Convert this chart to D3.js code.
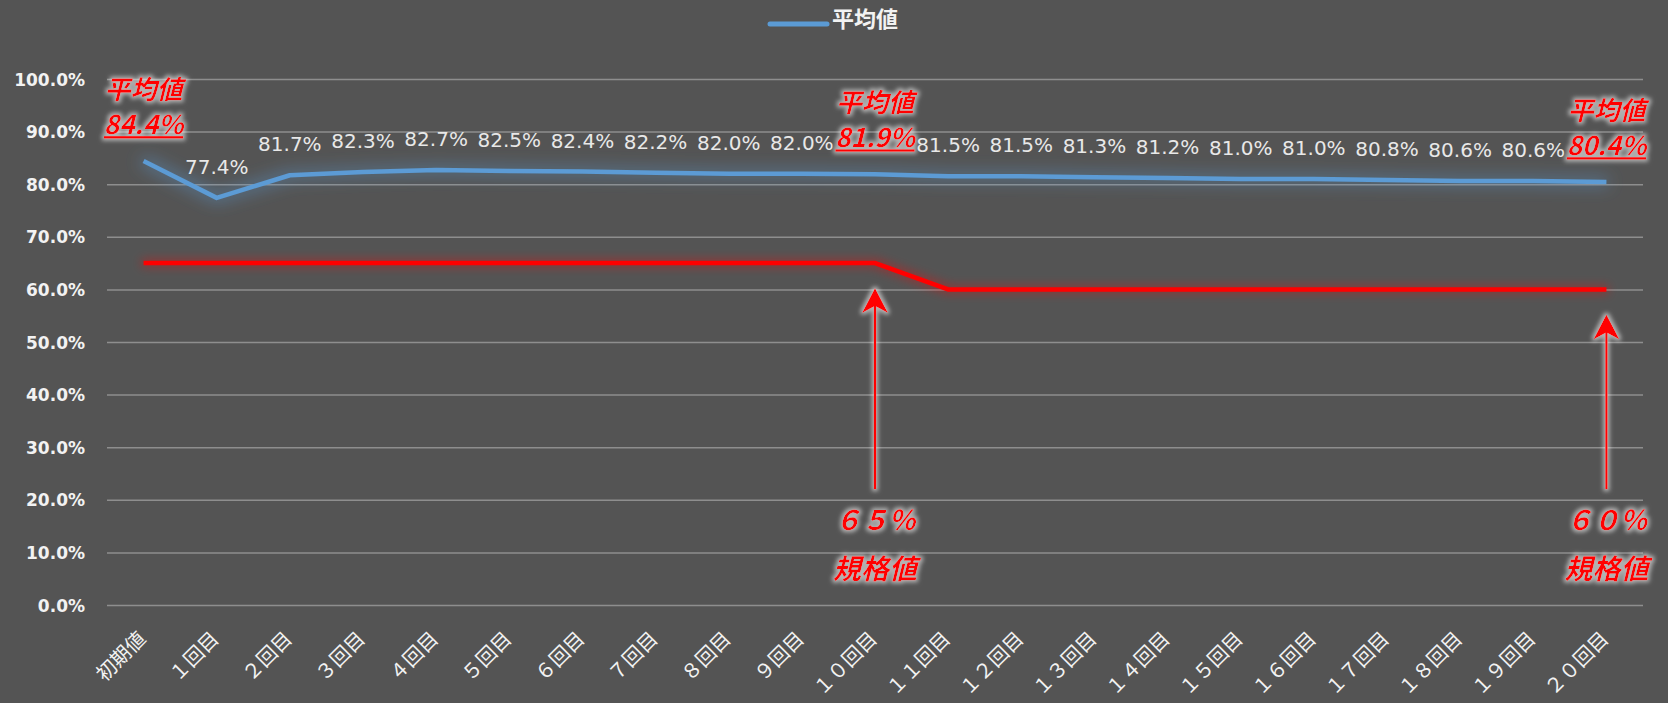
<!DOCTYPE html>
<html lang="ja">
<head>
  <meta charset="UTF-8">
  <title>平均値の推移</title>
  <script src="https://d3js.org/d3.v7.min.js"></script>
  <style>
    html, body {
      margin: 0;
      padding: 0;
      background: #545454;
    }
    #chart {
      width: 1668px;
      height: 703px;
    }
    .grid line {
      stroke: #8e8e8e;
      stroke-width: 1.5;
    }
    .y-axis text {
      font-family: "DejaVu Sans", sans-serif;
      font-weight: bold;
      font-size: 17px;
      fill: #f2f2f2;
    }
    .x-label {
      font-family: "Noto Sans CJK JP", sans-serif;
      font-size: 20px;
      fill: #f2f2f2;
    }
    .value-label {
      font-family: "DejaVu Sans", sans-serif;
      font-size: 20px;
      fill: #e8e8e8;
    }
    .red-label {
      font-family: "Noto Sans CJK JP", sans-serif;
      font-weight: bold;
      font-style: italic;
      fill: #ff0000;
    }
  </style>
</head>
<body>
  <div id="chart"></div>
  <script>
    const categories = ["初期値", "１回目", "２回目", "３回目", "４回目", "５回目", "６回目", "７回目",
      "８回目", "９回目", "１０回目", "１１回目", "１２回目", "１３回目", "１４回目", "１５回目",
      "１６回目", "１７回目", "１８回目", "１９回目", "２０回目"];
    const averages = [84.4, 77.4, 81.7, 82.3, 82.7, 82.5, 82.4, 82.2, 82.0, 82.0, 81.9,
      81.5, 81.5, 81.3, 81.2, 81.0, 81.0, 80.8, 80.6, 80.6, 80.4];
    const specs = [65, 65, 65, 65, 65, 65, 65, 65, 65, 65, 65,
      60, 60, 60, 60, 60, 60, 60, 60, 60, 60];
    const yTicks = [0, 10, 20, 30, 40, 50, 60, 70, 80, 90, 100];
    const seriesName = "平均値";
    const highlighted = ["初期値", "１０回目", "２０回目"];
    const specNotes = [
      { category: "１０回目", text: "６５％" },
      { category: "２０回目", text: "６０％" }
    ];
    const specNoteTitle = "規格値";

    const width = 1668;
    const height = 703;
    const margin = { top: 79, right: 25, bottom: 98, left: 107 };
    const innerW = width - margin.left - margin.right;
    const innerH = height - margin.top - margin.bottom;

    const svg = d3.select("#chart")
      .append("svg")
      .attr("width", width)
      .attr("height", height);

    const defs = svg.append("defs");

    // soft glow behind lines and red notes
    function glow(id, color, blur, opacity, dilate) {
      const f = defs.append("filter")
        .attr("id", id)
        .attr("x", "-50%").attr("y", "-50%")
        .attr("width", "200%").attr("height", "200%");
      let src = "SourceAlpha";
      if (dilate) {
        f.append("feMorphology").attr("in", "SourceAlpha")
          .attr("operator", "dilate").attr("radius", dilate).attr("result", "dil");
        src = "dil";
      }
      f.append("feGaussianBlur").attr("in", src).attr("stdDeviation", blur).attr("result", "blur");
      f.append("feFlood").attr("flood-color", color).attr("flood-opacity", opacity);
      f.append("feComposite").attr("in2", "blur").attr("operator", "in").attr("result", "glowCol");
      const m = f.append("feMerge");
      m.append("feMergeNode").attr("in", "glowCol");
      m.append("feMergeNode").attr("in", "SourceGraphic");
    }
    glow("blueGlow", "#5b9bd5", 8, 0.5, 2);
    glow("redGlow", "#ff0000", 5, 0.35, 2);
    glow("whiteGlow", "#ffffff", 2, 0.55, 1.5);

    const g = svg.append("g")
      .attr("transform", `translate(${margin.left}, ${margin.top})`);

    const x = d3.scalePoint()
      .domain(categories)
      .range([0, innerW])
      .padding(0.5);

    const y = d3.scaleLinear()
      .domain([0, 100])
      .range([innerH, 0]);

    // gridlines
    g.append("g")
      .attr("class", "grid")
      .call(d3.axisLeft(y).tickValues(yTicks).tickSize(-innerW).tickFormat(""))
      .call(s => s.select(".domain").remove());

    // y axis labels
    g.append("g")
      .attr("class", "y-axis")
      .call(d3.axisLeft(y).tickValues(yTicks).tickSize(0).tickPadding(22)
        .tickFormat(d => d.toFixed(1) + "%"))
      .call(s => s.select(".domain").remove())
      .call(s => s.selectAll("text").attr("dy", "0.36em"));

    // x axis labels, rotated 45 degrees
    const xAxis = g.append("g")
      .attr("class", "x-axis")
      .attr("transform", `translate(0, ${innerH})`)
      .call(d3.axisBottom(x).tickSize(0).tickFormat(""))
      .call(s => s.select(".domain").remove());

    xAxis.selectAll(".tick")
      .append("g")
      .attr("transform", "translate(3,35) rotate(-45)")
      .append("text")
      .attr("class", "x-label")
      .attr("text-anchor", "end")
      .text(d => d);

    const line = d3.line()
      .x((d, i) => x(categories[i]))
      .y(d => y(d));

    // spec line
    g.append("path")
      .datum(specs)
      .attr("fill", "none")
      .attr("stroke", "#ff0000")
      .attr("stroke-width", 4.5)
      .attr("filter", "url(#redGlow)")
      .attr("d", line);

    // average line
    g.append("path")
      .datum(averages)
      .attr("fill", "none")
      .attr("stroke", "#5b9bd5")
      .attr("stroke-width", 4.5)
      .attr("stroke-linejoin", "round")
      .attr("filter", "url(#blueGlow)")
      .attr("d", line);

    // value labels
    g.selectAll(".value-label")
      .data(averages.map((v, i) => ({ v, c: categories[i] })).filter(d => !highlighted.includes(d.c)))
      .enter()
      .append("text")
      .attr("class", "value-label")
      .attr("x", d => x(d.c))
      .attr("y", d => y(d.v) - 24)
      .attr("text-anchor", "middle")
      .text(d => d.v.toFixed(1) + "%");

    // highlighted average labels
    const hl = g.selectAll(".hl")
      .data(averages.map((v, i) => ({ v, c: categories[i] })).filter(d => highlighted.includes(d.c)))
      .enter()
      .append("g")
      .attr("class", "hl")
      .attr("filter", "url(#whiteGlow)");

    hl.append("text")
      .attr("class", "red-label")
      .attr("x", d => x(d.c))
      .attr("y", d => y(d.v) - 62)
      .attr("text-anchor", "middle")
      .style("font-size", "26px")
      .text(seriesName);

    hl.append("text")
      .attr("class", "red-label")
      .attr("x", d => x(d.c))
      .attr("y", d => y(d.v) - 27)
      .attr("text-anchor", "middle")
      .style("font-size", "26px")
      .style("text-decoration", "underline")
      .text(d => d.v.toFixed(1) + "%");

    // spec arrows and notes
    const notes = g.selectAll(".note")
      .data(specNotes.map(n => ({ ...n, spec: specs[categories.indexOf(n.category)] })))
      .enter()
      .append("g")
      .attr("class", "note")
      .attr("filter", "url(#whiteGlow)");

    const arrowBase = y(22);
    notes.append("line")
      .attr("x1", d => x(d.category))
      .attr("x2", d => x(d.category))
      .attr("y1", arrowBase)
      .attr("y2", d => y(d.spec) + 40)
      .attr("stroke", "#ff0000")
      .attr("stroke-width", 2.5);

    notes.append("path")
      .attr("fill", "#ff0000")
      .attr("d", d => {
        const cx = x(d.category);
        const tip = y(d.spec) + 25;
        return `M${cx},${tip} L${cx + 13},${tip + 25} L${cx},${tip + 18} L${cx - 13},${tip + 25} Z`;
      });

    notes.append("text")
      .attr("class", "red-label")
      .attr("x", d => x(d.category))
      .attr("y", arrowBase + 41)
      .attr("text-anchor", "middle")
      .style("font-size", "27px")
      .text(d => d.text);

    notes.append("text")
      .attr("class", "red-label")
      .attr("x", d => x(d.category))
      .attr("y", arrowBase + 90)
      .attr("text-anchor", "middle")
      .style("font-size", "28px")
      .text(specNoteTitle);

    // legend
    const legend = svg.append("g")
      .attr("transform", "translate(770, 24)");
    legend.append("line")
      .attr("x1", 0).attr("x2", 57)
      .attr("y1", 0).attr("y2", 0)
      .attr("stroke", "#5b9bd5")
      .attr("stroke-width", 5)
      .attr("stroke-linecap", "round");
    legend.append("text")
      .attr("x", 62)
      .attr("y", 3)
      .attr("font-family", "Noto Sans CJK JP, sans-serif")
      .attr("font-weight", "bold")
      .attr("font-size", "22px")
      .attr("fill", "#f2f2f2")
      .text(seriesName);
  </script>
</body>
</html>
